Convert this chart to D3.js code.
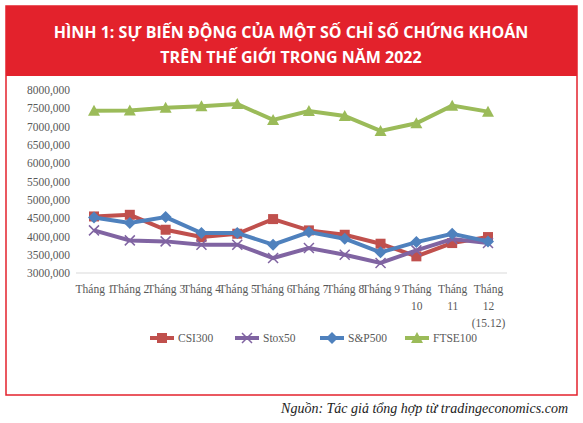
<!DOCTYPE html><html><head><meta charset="utf-8"><script src="https://cdn.jsdelivr.net/npm/d3@7"></script>
<style>body{margin:0;background:#fff}svg{font-family:"Open Sans",sans-serif}</style></head><body><svg width="583" height="423"></svg><script>
const months=["Tháng 1","Tháng 2","Tháng 3","Tháng 4","Tháng 5","Tháng 6","Tháng 7","Tháng 8","Tháng 9","Tháng 10","Tháng 11","Tháng 12 (15.12)"];
const csi300=[4545,4590,4182,3982,4073,4473,4164,4045,3800,3455,3818,3982];
const stox50=[4164,3891,3864,3773,3773,3409,3682,3500,3273,3618,3927,3818];
const sp500=[4518,4364,4527,4091,4091,3773,4118,3936,3564,3845,4073,3864];
const ftse100=[7436,7440,7518,7555,7618,7182,7427,7290,6882,7091,7573,7409];
const yTicks=[3000,3500,4000,4500,5000,5500,6000,6500,7000,7500,8000];
const series=[{name:"CSI300",v:csi300,c:"#c0504d",m:"square"},{name:"Stox50",v:stox50,c:"#8064a2",m:"x"},{name:"S&P500",v:sp500,c:"#4f81bd",m:"diamond"},{name:"FTSE100",v:ftse100,c:"#9bbb59",m:"triangle"}];
const svg=d3.select("svg");
const NF="Liberation Sans Narrow";
svg.append("rect").attr("x",6).attr("y",6).attr("width",571).attr("height",389).attr("fill","#fff").attr("stroke","#e3222c").attr("stroke-width",1.5);
svg.append("rect").attr("x",6).attr("y",6).attr("width",571).attr("height",70).attr("fill","#e3222c");
svg.append("text").attr("x",291).attr("y",38).attr("text-anchor","middle").attr("fill","#fff").attr("font-weight","bold").attr("font-size",16).text("HÌNH 1: SỰ BIẾN ĐỘNG CỦA MỘT SỐ CHỈ SỐ CHỨNG KHOÁN");
svg.append("text").attr("x",291).attr("y",63).attr("text-anchor","middle").attr("fill","#fff").attr("font-weight","bold").attr("font-size",16).text("TRÊN THẾ GIỚI TRONG NĂM 2022");
const x=d3.scalePoint().domain(months).range([94,488]);
const y=d3.scaleLinear().domain([3000,8000]).range([273,90]);
svg.append("line").attr("x1",76).attr("x2",507).attr("y1",y(3000)).attr("y2",y(3000)).attr("stroke","#d9d9d9");
const ya=svg.append("g").attr("transform","translate(73,0)").call(d3.axisLeft(y).tickValues(yTicks).tickSize(0).tickFormat(d=>d+",000"));
ya.select(".domain").remove();ya.selectAll("text").attr("font-size",11.5).attr("fill","#595959").attr("font-family",NF);
const xa=svg.append("g").attr("transform",`translate(0,${y(3000)+9})`).call(d3.axisBottom(x).tickSize(0));
xa.select(".domain").remove();
xa.selectAll("text").attr("font-size",11.5).attr("fill","#595959").attr("font-family",NF).each(function(d){const t=d3.select(this);t.text(null);let parts=d==="Tháng 12 (15.12)"?["Tháng","12","(15.12)"]:(d.length>7?["Tháng",d.slice(6)]:[d]);parts.forEach((p,i)=>t.append("tspan").attr("x",0).attr("dy",i?"1.45em":"0.71em").text(p));});
const line=d3.line().x((d,i)=>x(months[i])).y(d=>y(d));
function marker(g,m,c){if(m==="square")g.append("rect").attr("x",-5).attr("y",-5).attr("width",10).attr("height",10).attr("fill",c);
else if(m==="diamond")g.append("path").attr("d","M0,-6L6,0L0,6L-6,0Z").attr("fill",c);
else if(m==="triangle")g.append("path").attr("d","M0,-6L6,5L-6,5Z").attr("fill",c);
else g.append("path").attr("d","M-5,-5L5,5M-5,5L5,-5").attr("stroke",c).attr("stroke-width",1.5);}
const order=[3,0,1,2];
order.forEach(k=>{const s=series[k];svg.append("path").attr("d",line(s.v)).attr("fill","none").attr("stroke",s.c).attr("stroke-width",4);
s.v.forEach((v,i)=>marker(svg.append("g").attr("transform",`translate(${x(months[i])},${y(v)})`),s.m,s.c));});
const lg=svg.append("g");
series.forEach((s,i)=>{const gx=150+i*85,gy=338;const g=lg.append("g").attr("transform",`translate(${gx},${gy})`);
g.append("line").attr("x1",0).attr("x2",24).attr("stroke",s.c).attr("stroke-width",4);marker(g.append("g").attr("transform","translate(12,0)"),s.m,s.c);
g.append("text").attr("x",28).attr("y",4).attr("font-size",11.5).attr("font-family",NF).attr("fill","#595959").text(s.name);});
svg.append("text").attr("x",568).attr("y",413).attr("text-anchor","end").attr("font-style","italic").attr("font-size",14).attr("fill","#222").attr("font-family",NF).text("Nguồn: Tác giả tổng hợp từ tradingeconomics.com");
</script></body></html>
